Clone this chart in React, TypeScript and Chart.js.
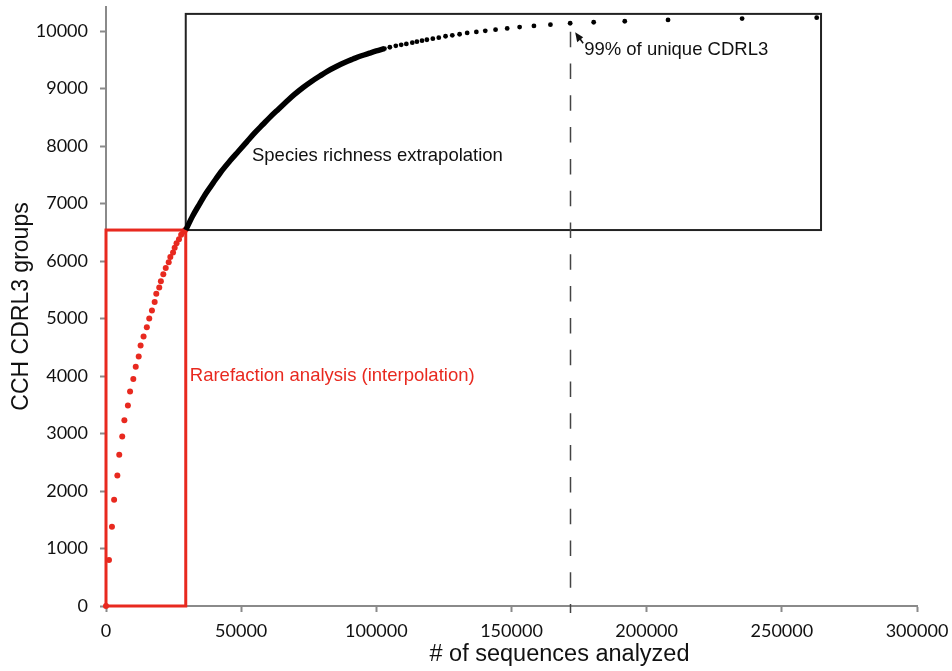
import React, { useEffect, useRef } from "react";
import { Chart, registerables } from "chart.js";

Chart.register(...registerables);

// ---- data ----
const xTickValues = [0, 50000, 100000, 150000, 200000, 250000, 300000];
const yTickValues = [0, 1000, 2000, 3000, 4000, 5000, 6000, 7000, 8000, 9000, 10000];

// Rarefaction (interpolation) points, red
const rareX = [0, 1100, 2200, 3000, 4200, 4900, 6000, 6800, 8100, 8900, 10100, 11000, 12100, 12800, 13900, 15100, 16000, 17000, 18000, 18600, 19700, 20300, 21200, 22100, 23200, 23800, 24800, 25400, 26100, 27000, 27800, 28600, 29300];
const rareY = [0, 800, 1380, 1850, 2270, 2630, 2950, 3230, 3490, 3730, 3950, 4160, 4340, 4530, 4690, 4850, 5000, 5140, 5290, 5430, 5540, 5650, 5770, 5880, 5980, 6070, 6150, 6230, 6310, 6380, 6460, 6510, 6540];

// Extrapolation: dense part (points merge into a thick line)
const extraLineX = [29500, 32000, 34700, 37000, 39650, 42500, 45800, 49000, 52000, 55000, 58100, 60600, 63500, 66700, 69500, 72900, 76000, 79100, 82000, 85200, 88300, 91400, 94500, 97500, 100000, 103000];
const extraLineY = [6540, 6780, 7000, 7180, 7360, 7550, 7740, 7910, 8070, 8230, 8380, 8500, 8630, 8770, 8890, 9020, 9125, 9220, 9305, 9385, 9455, 9515, 9572, 9618, 9655, 9695];

// Extrapolation: separate dots
const extraDotX = [103000, 105000, 107200, 109200, 111100, 113300, 115000, 116900, 118700, 120900, 123100, 125600, 128100, 130800, 133600, 137000, 140300, 144100, 148400, 153000, 158300, 164400, 171700, 180400, 191900, 207900, 235300, 262900];
const extraDotY = [9695, 9720, 9745, 9762, 9777, 9800, 9817, 9835, 9850, 9869, 9887, 9911, 9928, 9946, 9969, 9986, 10005, 10026, 10048, 10070, 10090, 10113, 10137, 10155, 10172, 10195, 10218, 10235];

// Annotation boxes / markers (in data units)
const redBoxX = [0, 29500];
const redBoxY = [0, 6540];
const blackBoxX = [29500, 264500];
const blackBoxY = [6540, 10300];
const saturationX = 171700;
const saturationY = 10137;

const RED = "#E8291F";
const AXIS_GREY = "#8a8a8a";
const SANS = "'Liberation Sans', Arial, sans-serif";
const TICK_FONT = "Lato, 'Open Sans', sans-serif";

const zeroPadding = (scale: any) => {
  scale.paddingTop = 0;
  scale.paddingBottom = 0;
  scale.paddingLeft = 0;
  scale.paddingRight = 0;
};

const overlay = {
  id: "overlay",
  beforeDatasetsDraw(chart: any) {
    const { ctx, scales } = chart;
    const x = scales.x;
    const y = scales.y;
    ctx.save();
    // red box
    ctx.strokeStyle = RED;
    ctx.lineWidth = 3;
    const rx0 = x.getPixelForValue(redBoxX[0]);
    const rx1 = x.getPixelForValue(redBoxX[1]);
    const ry0 = y.getPixelForValue(redBoxY[0]);
    const ry1 = y.getPixelForValue(redBoxY[1]);
    ctx.strokeRect(rx0, ry1, rx1 - rx0, ry0 - ry1);
    // black box
    ctx.strokeStyle = "#222";
    ctx.lineWidth = 2;
    const bx0 = x.getPixelForValue(blackBoxX[0]);
    const bx1 = x.getPixelForValue(blackBoxX[1]);
    const by0 = y.getPixelForValue(blackBoxY[0]);
    const by1 = y.getPixelForValue(blackBoxY[1]);
    ctx.strokeRect(bx0, by1, bx1 - bx0, by0 - by1);
    // dashed vertical line
    const dx = Math.round(x.getPixelForValue(saturationX)) + 0.5;
    ctx.strokeStyle = "#444";
    ctx.lineWidth = 1.5;
    ctx.setLineDash([15.5, 16.3]);
    ctx.beginPath();
    ctx.moveTo(dx, y.getPixelForValue(9990));
    ctx.lineTo(dx, y.bottom + 7);
    ctx.stroke();
    ctx.restore();
  },
  afterDraw(chart: any) {
    const { ctx, scales } = chart;
    const x = scales.x;
    const y = scales.y;
    ctx.save();
    ctx.textBaseline = "middle";
    ctx.textAlign = "left";
    ctx.font = `18.5px ${SANS}`;
    ctx.fillStyle = "#111";
    ctx.fillText("Species richness extrapolation", x.getPixelForValue(54000), y.getPixelForValue(7830));
    ctx.fillStyle = RED;
    ctx.fillText("Rarefaction analysis (interpolation)", x.getPixelForValue(31000), y.getPixelForValue(4000));
    // 99% annotation with arrow
    const px = x.getPixelForValue(saturationX);
    const py = y.getPixelForValue(saturationY);
    const tipX = px + 5;
    const tipY = py + 9;
    ctx.fillStyle = "#111";
    ctx.beginPath();
    ctx.moveTo(tipX, tipY);
    ctx.lineTo(tipX + 8, tipY + 5);
    ctx.lineTo(tipX + 2, tipY + 10);
    ctx.closePath();
    ctx.fill();
    ctx.strokeStyle = "#111";
    ctx.lineWidth = 1.5;
    ctx.beginPath();
    ctx.moveTo(tipX + 3, tipY + 4);
    ctx.lineTo(tipX + 8, tipY + 11);
    ctx.stroke();
    ctx.fillText("99% of unique CDRL3", px + 14, py + 27);
    // x-axis title
    ctx.font = `23.5px ${SANS}`;
    ctx.textAlign = "center";
    ctx.textBaseline = "alphabetic";
    ctx.fillStyle = "#111";
    ctx.fillText("# of sequences analyzed", (x.left + x.right) / 2 + 48, 661);
    ctx.restore();
  },
};

export default function App() {
  const canvasRef = useRef<HTMLCanvasElement | null>(null);

  useEffect(() => {
    const canvas = canvasRef.current;
    if (!canvas) return;
    const rare = rareX.map((v, i) => ({ x: v, y: rareY[i] }));
    const line = extraLineX.map((v, i) => ({ x: v, y: extraLineY[i] }));
    const dots = extraDotX.map((v, i) => ({ x: v, y: extraDotY[i] }));

    const chart = new Chart(canvas, {
      type: "scatter",
      data: {
        datasets: [
          {
            label: "Species richness extrapolation (dense)",
            data: line,
            showLine: true,
            borderColor: "#000",
            borderWidth: 5.5,
            pointRadius: 0,
            cubicInterpolationMode: "monotone",
            clip: false,
          } as any,
          {
            label: "Species richness extrapolation",
            data: dots,
            backgroundColor: "#000",
            borderWidth: 0,
            pointRadius: 2.4,
            clip: false,
          } as any,
          {
            label: "Rarefaction analysis",
            data: rare,
            backgroundColor: RED,
            borderWidth: 0,
            pointRadius: 3,
            clip: false,
          } as any,
        ],
      },
      options: {
        responsive: false,
        animation: false,
        layout: { padding: { top: 7, right: 35, left: 0, bottom: 0 } },
        plugins: {
          legend: { display: false },
          tooltip: { enabled: false },
        },
        scales: {
          x: {
            type: "linear",
            min: 0,
            max: 300000,
            afterBuildTicks: (scale: any) => {
              scale.ticks = xTickValues.map((v) => ({ value: v }));
            },
            afterFit: (scale: any) => {
              scale.height = 65;
              zeroPadding(scale);
            },
            grid: {
              drawOnChartArea: false,
              drawTicks: true,
              tickLength: 6,
              tickWidth: 2,
              tickColor: AXIS_GREY,
            },
            border: { display: true, color: AXIS_GREY, width: 2 },
            ticks: {
              color: "#111",
              font: { family: TICK_FONT, size: 18 },
              padding: 8,
              maxRotation: 0,
              callback: (v: any) => String(v),
            },
          },
          y: {
            type: "linear",
            min: 0,
            max: 10420,
            afterBuildTicks: (scale: any) => {
              scale.ticks = yTickValues.map((v) => ({ value: v }));
            },
            afterFit: (scale: any) => {
              scale.width = 106;
              zeroPadding(scale);
            },
            grid: {
              drawOnChartArea: false,
              drawTicks: true,
              tickLength: 6,
              tickWidth: 2,
              tickColor: AXIS_GREY,
            },
            border: { display: true, color: AXIS_GREY, width: 2 },
            ticks: {
              color: "#111",
              font: { family: TICK_FONT, size: 18 },
              padding: 12,
              callback: (v: any) => String(v),
            },
            title: {
              display: true,
              text: "CCH CDRL3 groups",
              color: "#111",
              font: { family: SANS, size: 23, lineHeight: 1.9 },
              padding: 0,
            },
          },
        },
      },
      plugins: [overlay],
    });
    return () => chart.destroy();
  }, []);

  return (
    <div style={{ position: "absolute", left: 0, top: 0, width: 952, height: 671, background: "#fff" }}>
      <canvas ref={canvasRef} width={952} height={671} style={{ width: 952, height: 671, display: "block" }} />
    </div>
  );
}
